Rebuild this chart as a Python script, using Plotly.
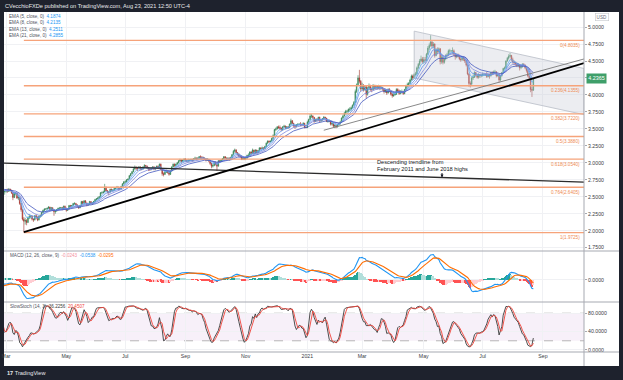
import pandas as pd
import numpy as np
import plotly.graph_objects as go

W, H = 623, 380

# ---------------- data (daily copper futures) ----------------
last_date = "2021-08-23"
first_open = 2.84
closes = [
    2.85, 2.86, 2.85, 2.86, 2.86, 2.86, 2.80, 2.77, 2.71, 2.70, 2.60, 2.57, 2.57, 2.55, 2.51,  # Jan 20
    2.52, 2.53, 2.57, 2.57, 2.56, 2.57, 2.57, 2.60, 2.60, 2.60, 2.61, 2.62, 2.61, 2.62, 2.62, 2.58, 2.58, 2.59, 2.57, 2.58,  # Feb
    2.59, 2.58, 2.61, 2.60, 2.56, 2.49, 2.55, 2.55, 2.48, 2.49, 2.40, 2.31, 2.17, 2.14, 2.15, 2.12, 2.19, 2.21, 2.21, 2.17, 2.16, 2.22,  # Mar
    2.20, 2.16, 2.21, 2.22, 2.27, 2.30, 2.32, 2.32, 2.33, 2.35, 2.31, 2.34, 2.31, 2.28, 2.29, 2.31, 2.33, 2.33, 2.34, 2.32, 2.36, 2.33,  # Apr
    2.30, 2.32, 2.37, 2.36, 2.37, 2.40, 2.40, 2.38, 2.36, 2.34, 2.37, 2.43, 2.40, 2.44, 2.41, 2.38, 2.39, 2.43, 2.40, 2.41, 2.43,  # May
    2.46, 2.47, 2.48, 2.50, 2.56, 2.56, 2.57, 2.64, 2.59, 2.57, 2.57, 2.61, 2.59, 2.60, 2.62, 2.63, 2.64, 2.62, 2.62, 2.65, 2.69, 2.72,  # Jun
    2.72, 2.75, 2.76, 2.81, 2.84, 2.87, 2.91, 2.93, 2.92, 2.92, 2.94, 2.91, 2.91, 2.94, 2.96, 2.95, 2.93, 2.91, 2.90, 2.92, 2.94, 2.91, 2.93,  # Jul
    2.95, 2.93, 2.98, 2.91, 2.84, 2.83, 2.86, 2.88, 2.86, 2.83, 2.88, 2.94, 2.98, 2.96, 2.98, 3.00, 3.03, 3.04, 3.02, 3.04, 3.05,  # Aug
    3.04, 3.03, 3.04, 3.04, 3.05, 3.04, 3.06, 3.07, 3.06, 3.07, 3.09, 3.08, 3.08, 3.07, 3.06, 3.04, 3.05, 3.03, 2.99, 2.95, 2.96, 3.00,  # Sep
    2.98, 2.95, 3.03, 3.02, 3.04, 3.06, 3.09, 3.07, 3.06, 3.07, 3.05, 3.08, 3.12, 3.17, 3.19, 3.15, 3.13, 3.10, 3.10, 3.05, 3.07, 3.06,  # Oct
    3.07, 3.11, 3.11, 3.16, 3.14, 3.19, 3.14, 3.19, 3.15, 3.18, 3.22, 3.21, 3.22, 3.21, 3.24, 3.29, 3.32, 3.31, 3.32, 3.36, 3.40,  # Nov
    3.49, 3.50, 3.53, 3.52, 3.51, 3.49, 3.53, 3.54, 3.51, 3.53, 3.52, 3.57, 3.62, 3.58, 3.55, 3.54, 3.56, 3.57, 3.57, 3.56, 3.56, 3.58, 3.52,  # Dec
    3.52, 3.60, 3.64, 3.69, 3.69, 3.67, 3.61, 3.64, 3.63, 3.67, 3.62, 3.63, 3.65, 3.67, 3.66, 3.61, 3.62, 3.62, 3.57, 3.58, 3.54,  # Jan 21
    3.55, 3.53, 3.56, 3.58, 3.60, 3.66, 3.69, 3.73, 3.76, 3.76, 3.79, 3.79, 3.81, 3.85, 3.89, 4.05, 4.15, 4.25, 4.20, 4.09,  # Feb
    4.14, 4.08, 4.12, 4.01, 4.10, 4.14, 4.08, 4.08, 4.14, 4.10, 4.13, 4.10, 4.13, 4.10, 4.11, 4.09, 4.05, 4.07, 4.03, 4.08, 4.06, 4.01, 3.99,  # Mar
    4.00, 4.01, 4.08, 4.06, 4.02, 4.05, 4.05, 4.02, 4.08, 4.13, 4.15, 4.17, 4.22, 4.28, 4.25, 4.30, 4.31, 4.40, 4.45, 4.50, 4.53, 4.49,  # Apr
    4.52, 4.51, 4.60, 4.69, 4.73, 4.78, 4.72, 4.75, 4.58, 4.67, 4.64, 4.68, 4.49, 4.56, 4.48, 4.53, 4.58, 4.59, 4.65, 4.65, 4.65,  # May
    4.65, 4.60, 4.56, 4.59, 4.57, 4.53, 4.52, 4.55, 4.53, 4.50, 4.44, 4.31, 4.17, 4.16, 4.25, 4.26, 4.33, 4.29, 4.26, 4.30, 4.28, 4.29,  # Jun
    4.30, 4.30, 4.30, 4.27, 4.30, 4.28, 4.33, 4.31, 4.34, 4.34, 4.28, 4.30, 4.22, 4.28, 4.33, 4.39, 4.40, 4.50, 4.54, 4.57, 4.58, 4.52,  # Jul
    4.49, 4.47, 4.46, 4.43, 4.45, 4.40, 4.42, 4.45, 4.44, 4.40, 4.36, 4.28, 4.25, 4.08, 4.07, 4.2365,  # Aug
]
highs = [
    2.87, 2.88, 2.87, 2.87, 2.88, 2.87, 2.87, 2.81, 2.77, 2.73, 2.67, 2.61, 2.59, 2.58, 2.56,
    2.54, 2.55, 2.58, 2.59, 2.58, 2.58, 2.59, 2.61, 2.62, 2.61, 2.62, 2.63, 2.63, 2.63, 2.64, 2.62, 2.60, 2.61, 2.60, 2.59,
    2.61, 2.62, 2.63, 2.62, 2.60, 2.54, 2.56, 2.57, 2.55, 2.52, 2.48, 2.41, 2.32, 2.20, 2.19, 2.17, 2.21, 2.24, 2.23, 2.22, 2.18, 2.23,
    2.24, 2.21, 2.22, 2.24, 2.28, 2.31, 2.33, 2.33, 2.34, 2.36, 2.35, 2.35, 2.34, 2.32, 2.30, 2.32, 2.34, 2.35, 2.35, 2.35, 2.37, 2.37,
    2.34, 2.33, 2.38, 2.38, 2.38, 2.41, 2.42, 2.41, 2.39, 2.37, 2.38, 2.44, 2.44, 2.45, 2.45, 2.41, 2.40, 2.44, 2.43, 2.42, 2.44,
    2.47, 2.48, 2.50, 2.51, 2.57, 2.58, 2.59, 2.69, 2.65, 2.60, 2.58, 2.62, 2.62, 2.61, 2.63, 2.64, 2.66, 2.65, 2.63, 2.66, 2.70, 2.73,
    2.74, 2.76, 2.77, 2.82, 2.85, 2.88, 2.93, 2.96, 2.95, 2.94, 2.95, 2.95, 2.93, 2.95, 2.98, 2.97, 2.96, 2.94, 2.93, 2.93, 2.95, 2.95, 2.94,
    2.96, 2.96, 2.99, 2.99, 2.92, 2.86, 2.88, 2.90, 2.89, 2.87, 2.89, 2.95, 2.99, 2.99, 2.99, 3.01, 3.04, 3.06, 3.05, 3.05, 3.07,
    3.07, 3.05, 3.06, 3.05, 3.06, 3.06, 3.07, 3.09, 3.08, 3.08, 3.10, 3.11, 3.10, 3.09, 3.08, 3.07, 3.07, 3.06, 3.04, 3.00, 2.98, 3.01,
    3.02, 2.99, 3.04, 3.04, 3.05, 3.07, 3.10, 3.10, 3.08, 3.08, 3.08, 3.09, 3.13, 3.19, 3.21, 3.20, 3.16, 3.14, 3.12, 3.11, 3.08, 3.08,
    3.09, 3.12, 3.14, 3.17, 3.17, 3.21, 3.19, 3.20, 3.19, 3.19, 3.23, 3.23, 3.24, 3.23, 3.25, 3.30, 3.33, 3.33, 3.33, 3.37, 3.42,
    3.50, 3.52, 3.54, 3.55, 3.55, 3.52, 3.54, 3.56, 3.55, 3.54, 3.54, 3.58, 3.65, 3.63, 3.59, 3.56, 3.57, 3.58, 3.58, 3.60, 3.58, 3.60, 3.59,
    3.53, 3.62, 3.65, 3.72, 3.72, 3.70, 3.67, 3.65, 3.66, 3.68, 3.68, 3.64, 3.66, 3.69, 3.68, 3.66, 3.63, 3.64, 3.63, 3.60, 3.59,
    3.57, 3.56, 3.57, 3.59, 3.62, 3.67, 3.71, 3.75, 3.78, 3.78, 3.80, 3.82, 3.83, 3.86, 3.91, 4.08, 4.17, 4.29, 4.37, 4.22,
    4.18, 4.16, 4.14, 4.13, 4.12, 4.17, 4.15, 4.11, 4.16, 4.15, 4.15, 4.14, 4.15, 4.14, 4.13, 4.12, 4.10, 4.09, 4.08, 4.10, 4.10, 4.07, 4.03,
    4.03, 4.03, 4.10, 4.10, 4.08, 4.07, 4.08, 4.06, 4.09, 4.15, 4.18, 4.19, 4.24, 4.30, 4.30, 4.32, 4.34, 4.42, 4.47, 4.53, 4.58, 4.56,
    4.56, 4.56, 4.62, 4.72, 4.76, 4.88, 4.80, 4.78, 4.76, 4.69, 4.70, 4.70, 4.69, 4.60, 4.58, 4.55, 4.60, 4.62, 4.67, 4.68, 4.66,
    4.70, 4.67, 4.62, 4.61, 4.61, 4.59, 4.56, 4.57, 4.57, 4.55, 4.51, 4.45, 4.32, 4.20, 4.27, 4.30, 4.35, 4.34, 4.31, 4.32, 4.31, 4.31,
    4.33, 4.32, 4.31, 4.34, 4.31, 4.31, 4.34, 4.35, 4.36, 4.37, 4.35, 4.31, 4.30, 4.29, 4.34, 4.40, 4.42, 4.51, 4.56, 4.60, 4.62, 4.59,
    4.55, 4.51, 4.49, 4.48, 4.47, 4.45, 4.44, 4.47, 4.47, 4.45, 4.41, 4.38, 4.30, 4.26, 4.12, 4.25,
]
lows = [
    2.83, 2.84, 2.84, 2.84, 2.85, 2.85, 2.79, 2.76, 2.69, 2.68, 2.58, 2.55, 2.55, 2.53, 2.50,
    2.49, 2.51, 2.52, 2.55, 2.54, 2.55, 2.55, 2.56, 2.58, 2.58, 2.59, 2.60, 2.60, 2.60, 2.61, 2.57, 2.56, 2.57, 2.55, 2.53,
    2.56, 2.56, 2.57, 2.58, 2.54, 2.45, 2.48, 2.52, 2.47, 2.45, 2.38, 2.28, 2.15, 1.9725, 2.09, 2.08, 2.12, 2.17, 2.18, 2.15, 2.13, 2.15,
    2.17, 2.14, 2.15, 2.19, 2.21, 2.26, 2.29, 2.31, 2.30, 2.32, 2.30, 2.30, 2.29, 2.22, 2.25, 2.28, 2.30, 2.31, 2.32, 2.30, 2.31, 2.31,
    2.28, 2.29, 2.31, 2.35, 2.35, 2.36, 2.38, 2.37, 2.35, 2.32, 2.33, 2.37, 2.39, 2.40, 2.40, 2.36, 2.37, 2.38, 2.39, 2.38, 2.40,
    2.42, 2.45, 2.46, 2.47, 2.49, 2.54, 2.55, 2.57, 2.58, 2.55, 2.52, 2.56, 2.58, 2.58, 2.59, 2.61, 2.62, 2.60, 2.60, 2.61, 2.64, 2.68,
    2.70, 2.71, 2.74, 2.76, 2.80, 2.83, 2.86, 2.90, 2.89, 2.88, 2.91, 2.89, 2.89, 2.90, 2.93, 2.93, 2.91, 2.88, 2.88, 2.89, 2.91, 2.89, 2.89,
    2.92, 2.91, 2.92, 2.89, 2.81, 2.80, 2.82, 2.85, 2.84, 2.81, 2.82, 2.87, 2.93, 2.94, 2.94, 2.97, 2.99, 3.01, 3.00, 3.01, 3.02,
    3.02, 3.01, 3.01, 3.02, 3.03, 3.02, 3.03, 3.05, 3.04, 3.05, 3.06, 3.06, 3.06, 3.05, 3.04, 3.02, 3.03, 3.01, 2.97, 2.92, 2.93, 2.95,
    2.96, 2.88, 2.95, 3.00, 3.01, 3.03, 3.05, 3.06, 3.04, 3.05, 3.03, 3.04, 3.07, 3.11, 3.15, 3.14, 3.11, 3.09, 3.08, 3.04, 3.04, 3.04,
    3.04, 3.06, 3.08, 3.10, 3.13, 3.13, 3.13, 3.14, 3.14, 3.14, 3.17, 3.19, 3.20, 3.19, 3.20, 3.23, 3.28, 3.29, 3.30, 3.31, 3.33,
    3.39, 3.47, 3.49, 3.50, 3.48, 3.47, 3.48, 3.52, 3.50, 3.50, 3.50, 3.51, 3.56, 3.57, 3.52, 3.50, 3.52, 3.55, 3.56, 3.54, 3.54, 3.55, 3.51,
    3.51, 3.51, 3.58, 3.63, 3.66, 3.64, 3.59, 3.60, 3.61, 3.62, 3.60, 3.60, 3.62, 3.64, 3.64, 3.60, 3.59, 3.60, 3.55, 3.55, 3.52,
    3.51, 3.51, 3.52, 3.55, 3.56, 3.60, 3.64, 3.68, 3.71, 3.73, 3.75, 3.76, 3.77, 3.80, 3.84, 3.89, 4.03, 4.13, 4.17, 4.05,
    4.07, 4.05, 4.06, 3.95, 3.99, 4.08, 4.06, 4.04, 4.07, 4.08, 4.08, 4.08, 4.09, 4.07, 4.08, 4.06, 4.02, 4.03, 4.00, 4.02, 4.04, 3.99, 3.96,
    3.97, 3.99, 4.00, 4.04, 4.00, 4.01, 4.02, 4.00, 4.01, 4.07, 4.11, 4.14, 4.16, 4.21, 4.22, 4.24, 4.28, 4.30, 4.38, 4.43, 4.48, 4.46,
    4.46, 4.47, 4.50, 4.59, 4.66, 4.71, 4.68, 4.69, 4.55, 4.57, 4.60, 4.62, 4.45, 4.46, 4.45, 4.46, 4.51, 4.55, 4.57, 4.61, 4.63,
    4.60, 4.57, 4.52, 4.54, 4.55, 4.51, 4.49, 4.50, 4.50, 4.47, 4.42, 4.29, 4.12, 4.11, 4.14, 4.22, 4.25, 4.27, 4.24, 4.24, 4.25, 4.26,
    4.27, 4.28, 4.28, 4.25, 4.26, 4.24, 4.27, 4.29, 4.30, 4.31, 4.26, 4.27, 4.18, 4.20, 4.27, 4.32, 4.37, 4.40, 4.49, 4.52, 4.55, 4.50,
    4.46, 4.44, 4.43, 4.41, 4.41, 4.36, 4.38, 4.40, 4.42, 4.38, 4.33, 4.26, 4.22, 4.04, 3.97, 4.06,
]

tick_dates = ["2020-03-02", "2020-05-01", "2020-07-01", "2020-09-01", "2020-11-02",
              "2021-01-04", "2021-03-01", "2021-05-03", "2021-07-01", "2021-09-01"]
tick_labels = ["Mar", "May", "Jul", "Sep", "Nov", "2021", "Mar", "May", "Jul", "Sep"]
x_range = ["2020-02-27 12:00", "2021-10-13"]

price_ticks = [1.75, 2.0, 2.25, 2.5, 2.75, 3.0, 3.25, 3.5, 3.75, 4.0, 4.25, 4.5, 4.75, 5.0]
price_range = [1.701, 5.222]
stoch_ticks = [0, 40, 80]
stoch_range = [-4.4, 104.4]

fib_ratios = ["0", "0.236", "0.382", "0.5", "0.618", "0.764", "1"]
fib_prices = [4.8035, 4.1355, 3.7220, 3.3880, 3.0540, 2.6405, 1.9725]
fib_start = "2020-03-19"

uptrend_dates = ["2020-03-19", x_range[1]]
uptrend_prices = [1.98, 4.47]
inner_dates = ["2021-01-20", x_range[1]]
inner_prices = [3.48, 4.53]
desc_dates = [x_range[0], x_range[1]]
desc_prices = [2.995, 2.715]
channel_dates = ["2021-04-22", x_range[1]]
channel_top = [4.94, 4.39]
channel_bottom = [4.25, 3.71]

ema_periods = [5, 8, 13, 21]
ema_legend_values = ["4.1874", "4.2135", "4.2511", "4.2855"]
macd_legend_values = ["-0.0243", "-0.0538", "-0.0295"]
stoch_legend_values = ["36.2256", "20.4507"]
last_price_label = "4.2365"
last_price = 4.2365

# ---------------- derived series ----------------
n = min(len(closes), len(highs), len(lows))
closes, highs, lows = closes[:n], highs[:n], lows[:n]
dates = pd.bdate_range(end=last_date, periods=n)
opens = [first_open] + closes[:-1]
hi = [max(h, o, c) for h, o, c in zip(highs, opens, closes)]
lo = [min(l, o, c) for l, o, c in zip(lows, opens, closes)]

s = pd.Series(closes, index=dates)
emas = [s.ewm(span=p, adjust=False).mean() for p in ema_periods]
macd = s.ewm(span=12, adjust=False).mean() - s.ewm(span=26, adjust=False).mean()
sig = macd.ewm(span=9, adjust=False).mean()
hist = macd - sig
hh = pd.Series(hi, index=dates).rolling(14).max()
ll = pd.Series(lo, index=dates).rolling(14).min()
fastk = 100 * (s - ll) / (hh - ll)
k = fastk.rolling(3).mean()
d = k.rolling(3).mean()

hist_colors = []
prev = 0.0
for v in hist.values:
    if v >= 0:
        hist_colors.append("#26a69a" if v >= prev else "#b2dfdb")
    else:
        hist_colors.append("#ff5252" if v < prev else "#ffcdd2")
    prev = v

vis = dates >= pd.Timestamp(x_range[0])
mlo = min(macd[vis].min(), sig[vis].min(), hist[vis].min())
mhi = max(macd[vis].max(), sig[vis].max(), hist[vis].max())
pad = 0.08 * (mhi - mlo)
macd_range = [mlo - pad, mhi + pad]

# ---------------- figure ----------------
def px(x):
    return x / W


def py(y):
    return 1 - y / H


FONT = "Liberation Sans, Arial, sans-serif"
GRID = "#f0f1f4"
AXC = "#3a3d45"

fig = go.Figure()

# channel fill (below candles)
fig.add_trace(go.Scatter(
    x=[channel_dates[0], channel_dates[1], channel_dates[1], channel_dates[0], channel_dates[0]],
    y=[channel_top[0], channel_top[1], channel_bottom[1], channel_bottom[0], channel_top[0]],
    mode="lines", fill="toself", fillcolor="rgba(200,204,214,0.35)",
    line=dict(color="#b8bcc6", width=0.8), hoverinfo="skip", showlegend=False,
    xaxis="x", yaxis="y"))

fig.add_trace(go.Candlestick(
    x=dates, open=opens, high=hi, low=lo, close=closes,
    increasing=dict(line=dict(color="#2f7d52", width=0.6), fillcolor="#3f9f6a"),
    decreasing=dict(line=dict(color="#9e2f28", width=0.6), fillcolor="#d0463b"),
    whiskerwidth=0, showlegend=False, hoverinfo="skip", xaxis="x", yaxis="y"))

ema_colors = ["#64b0f5", "#5d8ee6", "#7e88dc", "#4458bf"]
for e, col in zip(emas, ema_colors):
    fig.add_trace(go.Scatter(x=dates, y=e, mode="lines", line=dict(color=col, width=0.8),
                             hoverinfo="skip", showlegend=False, xaxis="x", yaxis="y"))

# MACD panel
fig.add_trace(go.Bar(x=dates, y=hist, marker=dict(color=hist_colors, line=dict(width=0)),
                     width=86400000 * 0.7, showlegend=False, hoverinfo="skip",
                     xaxis="x2", yaxis="y2"))
fig.add_trace(go.Scatter(x=dates, y=macd, mode="lines", line=dict(color="#2196f3", width=1.1),
                         hoverinfo="skip", showlegend=False, xaxis="x2", yaxis="y2"))
fig.add_trace(go.Scatter(x=dates, y=sig, mode="lines", line=dict(color="#ff6d00", width=1.1),
                         hoverinfo="skip", showlegend=False, xaxis="x2", yaxis="y2"))

# Stoch panel
fig.add_trace(go.Scatter(x=dates, y=k, mode="lines", line=dict(color="#3b3b3b", width=0.9),
                         hoverinfo="skip", showlegend=False, xaxis="x3", yaxis="y3"))
fig.add_trace(go.Scatter(x=dates, y=d, mode="lines", line=dict(color="#f0443a", width=0.9),
                         hoverinfo="skip", showlegend=False, xaxis="x3", yaxis="y3"))

shapes = []
# white chart area inside dark frame
shapes.append(dict(type="rect", xref="paper", yref="paper", x0=px(4), x1=px(619), y0=py(366), y1=py(12),
                   fillcolor="white", line=dict(width=0), layer="below"))
# stoch band
shapes.append(dict(type="rect", xref="x3 domain", yref="y3", x0=0, x1=1, y0=20, y1=80,
                   fillcolor="#f7f0f9", line=dict(width=0), layer="below"))
for lvl in (20, 80):
    shapes.append(dict(type="line", xref="x3 domain", yref="y3", x0=0, x1=1, y0=lvl, y1=lvl,
                       line=dict(color="#9a9a9a", width=0.7, dash="dash"), layer="below"))
# fib levels
for p in fib_prices:
    shapes.append(dict(type="line", xref="x", yref="y", x0=fib_start, x1=x_range[1], y0=p, y1=p,
                       line=dict(color="#f6a37a", width=1.3), layer="above"))
# trendlines
shapes.append(dict(type="line", xref="x", yref="y", x0=desc_dates[0], x1=desc_dates[1],
                   y0=desc_prices[0], y1=desc_prices[1], line=dict(color="#2b2b2b", width=1.3), layer="above"))
shapes.append(dict(type="line", xref="x", yref="y", x0=inner_dates[0], x1=inner_dates[1],
                   y0=inner_prices[0], y1=inner_prices[1], line=dict(color="#7a7a7a", width=0.9), layer="above"))
shapes.append(dict(type="line", xref="x", yref="y", x0=uptrend_dates[0], x1=uptrend_dates[1],
                   y0=uptrend_prices[0], y1=uptrend_prices[1], line=dict(color="#000000", width=1.8), layer="above"))
# panel separators & price axis border
for yy in (251, 302, 352):
    shapes.append(dict(type="line", xref="paper", yref="paper", x0=px(4), x1=px(619), y0=py(yy), y1=py(yy),
                       line=dict(color="#a6a9b1", width=1), layer="above"))
shapes.append(dict(type="line", xref="paper", yref="paper", x0=px(584), x1=px(584), y0=py(366), y1=py(12),
                   line=dict(color="#a6a9b1", width=1), layer="above"))

ann = []
ann.append(dict(xref="paper", yref="paper", x=px(3), y=py(6), xanchor="left", yanchor="middle", showarrow=False,
                text="CVecchioFXDe published on TradingView.com, Aug 23, 2021 12:50 UTC-4",
                font=dict(family=FONT, size=5.6, color="#e8e9ec")))
ann.append(dict(xref="paper", yref="paper", x=px(5), y=py(373), xanchor="left", yanchor="middle", showarrow=False,
                text="<b>17</b> TradingView", font=dict(family=FONT, size=5.6, color="#e8e9ec")))
legend_y = [16, 22.6, 29.3, 36]
for per, val, yy in zip(ema_periods, ema_legend_values, legend_y):
    ann.append(dict(xref="paper", yref="paper", x=px(7), y=py(yy), xanchor="left", yanchor="middle",
                    showarrow=False,
                    text=f"EMA ({per}, close, 0)  <span style='color:#2196f3'>{val}</span>",
                    font=dict(family=FONT, size=4.6, color="#50535e")))
ann.append(dict(xref="paper", yref="paper", x=px(8), y=py(255.5), xanchor="left", yanchor="middle", showarrow=False,
                text=("MACD (12, 26, close, 9)  "
                      f"<span style='color:#f48fa0'>{macd_legend_values[0]}</span>  "
                      f"<span style='color:#2196f3'>{macd_legend_values[1]}</span>  "
                      f"<span style='color:#ff6d00'>{macd_legend_values[2]}</span>"),
                font=dict(family=FONT, size=4.6, color="#50535e")))
ann.append(dict(xref="paper", yref="paper", x=px(8), y=py(306), xanchor="left", yanchor="middle", showarrow=False,
                text=("SlowStoch (14, 3)  "
                      f"<span style='color:#3b3b3b'>{stoch_legend_values[0]}</span>  "
                      f"<span style='color:#f0443a'>{stoch_legend_values[1]}</span>"),
                font=dict(family=FONT, size=4.6, color="#50535e")))
for r, p in zip(fib_ratios, fib_prices):
    ann.append(dict(xref="paper", yref="y", x=px(582), y=p, xanchor="right", yanchor="top", yshift=-0.5,
                    showarrow=False, text=f"{r}({p:.4f})",
                    font=dict(family=FONT, size=4.6, color="#ee8a52")))
ann.append(dict(xref="paper", yref="y", x=px(585.5), y=last_price, xanchor="left", yanchor="middle",
                showarrow=False, text=last_price_label, bgcolor="#3f9f6a", borderpad=1.3,
                font=dict(family=FONT, size=5.4, color="white")))
ann.append(dict(xref="paper", yref="paper", x=px(602), y=py(17), xanchor="center", yanchor="middle",
                showarrow=False, text="USD", bordercolor="#c4c6cc", borderwidth=0.6, borderpad=1,
                font=dict(family=FONT, size=4.6, color="#6a6d78")))
ann.append(dict(xref="paper", yref="paper", x=px(375), y=py(157), xanchor="left", yanchor="top",
                showarrow=False, align="left",
                text="Descending trendline from<br>February 2011 and June 2018 highs",
                font=dict(family=FONT, size=5.7, color="#131722")))
ann.append(dict(xref="paper", yref="paper", x=px(442), y=py(177.5), ax=0, ay=-6, axref="pixel", ayref="pixel",
                showarrow=True, arrowhead=2, arrowsize=0.6, arrowwidth=1, arrowcolor="#131722", text=""))

xcommon = dict(domain=[px(4), px(584)], range=x_range, type="date",
               rangebreaks=[dict(bounds=["sat", "mon"])],
               showgrid=True, gridcolor=GRID, gridwidth=0.7, zeroline=False, showline=False,
               tickvals=tick_dates, ticktext=tick_labels, ticks="", fixedrange=True,
               rangeslider=dict(visible=False), automargin=False,
               tickfont=dict(family=FONT, size=5.2, color=AXC))
ycommon = dict(side="right", showgrid=True, gridcolor=GRID, gridwidth=0.7, zeroline=False, showline=False,
               ticks="outside", ticklen=2, tickcolor="#a6a9b1", fixedrange=True, automargin=False,
               tickfont=dict(family=FONT, size=5.2, color=AXC))

fig.update_layout(
    template="none",
    width=W, height=H, autosize=False,
    margin=dict(l=0, r=0, t=0, b=0),
    paper_bgcolor="#1e222d", plot_bgcolor="white",
    showlegend=False, bargap=0,
    xaxis=dict(xcommon, anchor="y", showticklabels=False),
    xaxis2=dict(xcommon, anchor="y2", matches="x", showticklabels=False),
    xaxis3=dict(xcommon, anchor="y3", matches="x", showticklabels=True),
    yaxis=dict(ycommon, domain=[py(251), py(12)], anchor="x", range=price_range,
               tickvals=price_ticks, ticktext=[f"{v:.4f}" for v in price_ticks]),
    yaxis2=dict(ycommon, domain=[py(302), py(251)], anchor="x2", range=macd_range,
                tickvals=[0], ticktext=["0.0000"]),
    yaxis3=dict(ycommon, domain=[py(352), py(302)], anchor="x3", range=stoch_range,
                tickvals=stoch_ticks, ticktext=[f"{v:.4f}" for v in stoch_ticks]),
    shapes=shapes, annotations=ann,
)

fig.write_html("out.html", config={"displayModeBar": False},
               post_script="document.body.style.margin='0';document.body.style.overflow='hidden';")
